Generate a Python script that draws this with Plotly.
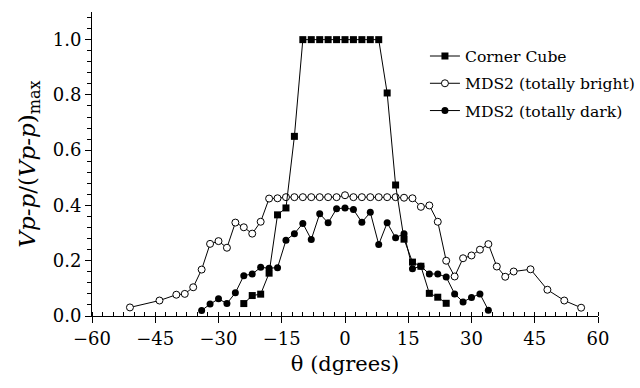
import plotly.graph_objects as go

# ---- data ----
cube_x = [-24, -22, -20, -18, -16, -14, -12, -10, -8, -6, -4, -2, 0, 2, 4, 6, 8,
          10, 12, 14, 16, 18, 20, 22, 24]
cube_y = [0.045, 0.074, 0.079, 0.155, 0.366, 0.391, 0.650, 1.0, 1.0, 1.0, 1.0, 1.0,
          1.0, 1.0, 1.0, 1.0, 1.0, 0.807, 0.474, 0.278, 0.195, 0.18, 0.082, 0.068, 0.046]

bright_x = [-51, -44, -40, -38, -36, -34, -32, -30, -28, -26, -24, -22, -20, -18, -16,
            -14, -12, -10, -8, -6, -4, -2, 0, 2, 4, 6, 8, 10, 12, 14, 16, 18, 20, 22,
            24, 26, 28, 30, 32, 34, 36, 38, 40, 44, 48, 52, 56]
bright_y = [0.031, 0.056, 0.077, 0.080, 0.104, 0.168, 0.261, 0.271, 0.247, 0.338,
            0.321, 0.298, 0.341, 0.425, 0.426, 0.430, 0.430, 0.430, 0.430, 0.430,
            0.430, 0.430, 0.437, 0.430, 0.430, 0.430, 0.430, 0.430, 0.430, 0.428,
            0.426, 0.395, 0.400, 0.341, 0.200, 0.143, 0.209, 0.219, 0.240, 0.260,
            0.179, 0.142, 0.161, 0.169, 0.095, 0.056, 0.030]

dark_x = [-34, -32, -30, -28, -26, -24, -22, -20, -18, -16, -14, -12, -10, -8, -6,
          -4, -2, 0, 2, 4, 6, 8, 10, 12, 14, 16, 18, 20, 22, 24, 26, 28, 30, 32, 34]
dark_y = [0.020, 0.043, 0.062, 0.045, 0.084, 0.146, 0.152, 0.176, 0.173, 0.175,
          0.274, 0.298, 0.335, 0.277, 0.370, 0.337, 0.388, 0.391, 0.385, 0.339,
          0.375, 0.259, 0.337, 0.283, 0.298, 0.171, 0.180, 0.152, 0.152, 0.141,
          0.080, 0.051, 0.067, 0.080, 0.021]

x_ticks = [-60, -45, -30, -15, 0, 15, 30, 45, 60]
y_ticks = [0.0, 0.2, 0.4, 0.6, 0.8, 1.0]

FONT = "DejaVu Serif"

fig = go.Figure()
fig.add_trace(go.Scatter(
    x=bright_x, y=bright_y, mode="lines+markers", name="MDS2 (totally bright)",
    line=dict(color="black", width=1),
    marker=dict(symbol="circle", size=7, color="white", line=dict(color="black", width=1)),
    legendrank=2, legendgroup="b"))
fig.add_trace(go.Scatter(
    x=cube_x, y=cube_y, mode="lines+markers", name="Corner Cube",
    line=dict(color="black", width=1),
    marker=dict(symbol="square", size=7, color="black", line=dict(width=0)),
    legendrank=1, legendgroup="a"))
fig.add_trace(go.Scatter(
    x=dark_x, y=dark_y, mode="lines+markers", name="MDS2 (totally dark)",
    line=dict(color="black", width=1),
    marker=dict(symbol="circle", size=7, color="black", line=dict(width=0)),
    legendrank=3, legendgroup="c"))

fig.update_layout(
    width=640, height=388,
    margin=dict(l=92, r=42, t=12, b=72, autoexpand=False),
    paper_bgcolor="white", plot_bgcolor="white",
    font=dict(family=FONT, color="black", size=18),
    showlegend=True,
    legend=dict(x=0.658, y=0.91, xanchor="left", yanchor="top",
                bgcolor="rgba(0,0,0,0)", font=dict(family=FONT, size=15.6, color="black"),
                itemwidth=30, tracegroupgap=4),
    xaxis=dict(
        range=[-60, 60], tickvals=x_ticks, ticks="outside", ticklen=6, tickwidth=1,
        tickcolor="black", showline=True, linecolor="black", linewidth=1,
        showgrid=False, zeroline=False, tickfont=dict(family=FONT, size=18),
        minor=dict(dtick=2.5, tick0=0, ticks="inside", ticklen=4, tickcolor="black",
                   showgrid=False),
        title=dict(text="θ (dgrees)", font=dict(family=FONT, size=21), standoff=8)),
    yaxis=dict(
        range=[0, 1.1], tickvals=y_ticks, tickformat=".1f", ticks="outside", ticklen=6,
        tickwidth=1, tickcolor="black", showline=True, linecolor="black", linewidth=1,
        showgrid=False, zeroline=False, tickfont=dict(family=FONT, size=18),
        minor=dict(dtick=0.04, tick0=0, ticks="outside", ticklen=4, tickcolor="black",
                   showgrid=False),
        title=dict(text="<i>Vp-p</i>/(<i>Vp-p</i>)<sub>max</sub>",
                   font=dict(family=FONT, size=23), standoff=10)),
    xaxis2=dict(range=[-60, 60], overlaying="x", anchor="y", tickvals=x_ticks,
                ticks="inside", ticklen=6, tickcolor="black", showticklabels=False,
                showgrid=False, zeroline=False, showline=False, side="bottom"),
    yaxis2=dict(range=[0, 1.1], overlaying="y", anchor="x", tickvals=y_ticks,
                ticks="inside", ticklen=6, tickcolor="black", showticklabels=False,
                showgrid=False, zeroline=False, showline=False, side="left"),
)

fig.write_html("out.html")
